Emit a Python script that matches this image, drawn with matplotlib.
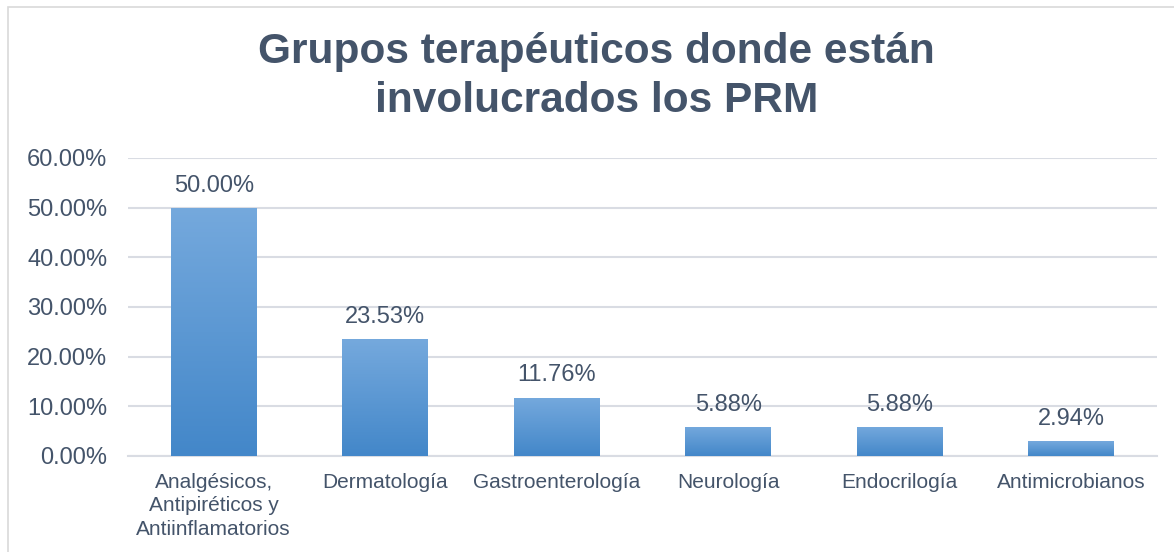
import numpy as np
import matplotlib.pyplot as plt
from matplotlib.colors import LinearSegmentedColormap
from matplotlib.patches import Rectangle
from matplotlib.ticker import FuncFormatter

plt.rcParams['font.family'] = ['Liberation Sans', 'DejaVu Sans']

# data
categories = ['Analgésicos,\nAntipiréticos y\nAntiinflamatorios', 'Dermatología',
              'Gastroenterología', 'Neurología', 'Endocrilogía', 'Antimicrobianos']
values = [0.50, 0.2353, 0.1176, 0.0588, 0.0588, 0.0294]
title = 'Grupos terapéuticos donde están\ninvolucrados los PRM'

text_color = '#44546A'
grid_color = '#D9DCE3'

fig = plt.figure(figsize=(11.74, 5.52), dpi=100)
# light frame around the chart area (cut at right/bottom like the source)
fig.patches.append(Rectangle((8 / 1174, -0.05), 1.1, 1 - 7 / 552 + 0.05,
                             transform=fig.transFigure, fill=False,
                             edgecolor='#D9D9D9', linewidth=1.2))

ax = fig.add_axes([0.109, 0.174, 0.8765, 0.5398])
x = np.arange(len(categories))
bars = ax.bar(x, values, width=0.5, color='none', zorder=3)

# vertical gradient fill for each bar
cmap = LinearSegmentedColormap.from_list('bar', ['#4387C9', '#75A9DD'])
grad = np.linspace(0, 1, 256).reshape(-1, 1)
for b in bars:
    x0, y0 = b.get_x(), b.get_y()
    im = ax.imshow(grad, cmap=cmap, origin='lower', aspect='auto',
                   extent=[x0, x0 + b.get_width(), y0, y0 + b.get_height()],
                   zorder=3)
    im.set_clip_path(b)

for xi, v in zip(x, values):
    ax.annotate(f'{v * 100:.2f}%', (xi, v), xytext=(0, 8), textcoords='offset points',
                ha='center', va='bottom', fontsize=17, color=text_color)

ax.set_xlim(-0.5, len(categories) - 0.5)
ax.set_ylim(0, 0.6)
ax.set_yticks(np.arange(0, 0.61, 0.1))
ax.yaxis.set_major_formatter(FuncFormatter(lambda v, p: f'{v * 100:.2f}%'))
ax.set_xticks(x)
ax.set_xticklabels(categories, fontsize=15, color=text_color, linespacing=1.3)
ax.tick_params(axis='y', labelsize=17, labelcolor=text_color, length=0, pad=15)
ax.tick_params(axis='x', length=0, pad=12)
ax.grid(axis='y', color=grid_color, linewidth=1.5, zorder=0)
for s in ['top', 'right', 'left']:
    ax.spines[s].set_visible(False)
ax.spines['bottom'].set_color(grid_color)
ax.spines['bottom'].set_linewidth(1.5)

fig.text(0.508, 0.862, title, ha='center', va='center', fontsize=30.5,
         fontweight='bold', color=text_color, linespacing=1.3)

fig.savefig('out.png', dpi=100)
